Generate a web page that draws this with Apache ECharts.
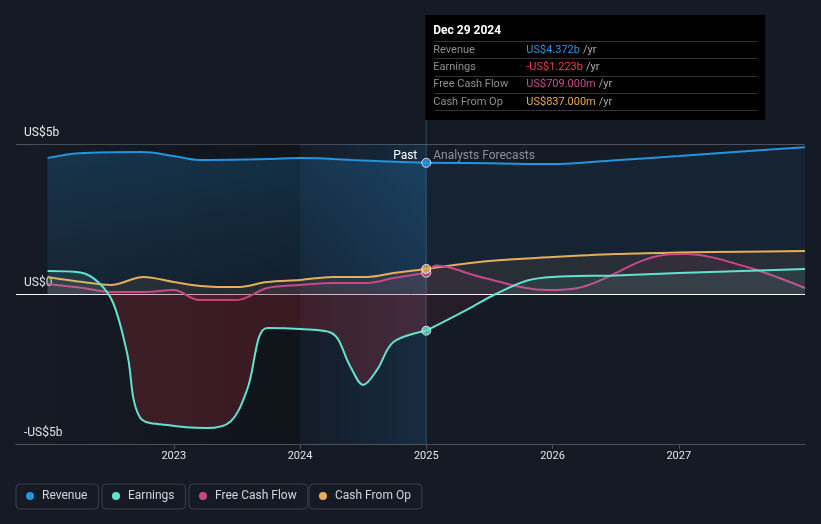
<!DOCTYPE html>
<html><head><meta charset="utf-8">
<script src="https://cdn.jsdelivr.net/npm/echarts@6/dist/echarts.min.js"></script>
<style>html,body{margin:0;padding:0;background:#151b25;}#c{width:821px;height:524px;}</style>
</head><body><div id="c"></div>
<script>
// ---- data (decimal year, US$ billions) ----
const xTicks = [2023, 2024, 2025, 2026, 2027];
const yTicks = [-5, 0, 5];
const seriesNames = ['Revenue', 'Earnings', 'Free Cash Flow', 'Cash From Op'];

const revenuePast = [[2022.0,4.53],[2022.25,4.69],[2022.75,4.73],[2023.0,4.6],[2023.2,4.47],[2023.75,4.5],[2024.0,4.53],[2024.5,4.45],[2025.0,4.372]];
const revenueForecast = [[2025.0,4.372],[2025.5,4.36],[2026.0,4.33],[2026.5,4.46],[2027.0,4.6],[2027.5,4.75],[2028.0,4.89]];

const earningsPast = [[2022.0,0.77],[2022.26,0.72],[2022.4,0.4],[2022.52,-0.3],[2022.63,-1.97],[2022.73,-4.1],[2022.95,-4.37],[2023.26,-4.47],[2023.45,-4.25],[2023.58,-3.2],[2023.74,-1.13],[2024.0,-1.17],[2024.25,-1.3],[2024.4,-2.43],[2024.5,-3.03],[2024.61,-2.53],[2024.74,-1.6],[2025.0,-1.223]];
const earningsForecast = [[2025.0,-1.223],[2025.32,-0.53],[2025.55,0.0],[2025.8,0.45],[2026.0,0.57],[2026.5,0.62],[2027.0,0.7],[2027.5,0.77],[2028.0,0.83]];

const fcfPast = [[2022.0,0.33],[2022.28,0.2],[2022.5,0.07],[2022.76,0.07],[2023.0,0.13],[2023.2,-0.2],[2023.5,-0.2],[2023.74,0.2],[2024.0,0.3],[2024.26,0.37],[2024.53,0.37],[2024.74,0.53],[2025.0,0.709]];
const fcfForecast = [[2025.0,0.709],[2025.08,0.95],[2025.43,0.57],[2025.96,0.13],[2026.2,0.2],[2026.88,1.3],[2027.05,1.33],[2027.54,0.9],[2028.0,0.2]];

const cfoPast = [[2022.0,0.57],[2022.28,0.4],[2022.5,0.3],[2022.76,0.57],[2023.0,0.4],[2023.21,0.27],[2023.5,0.23],[2023.74,0.4],[2024.0,0.47],[2024.26,0.57],[2024.53,0.57],[2024.74,0.70],[2025.0,0.837]];
const cfoForecast = [[2025.0,0.837],[2025.5,1.1],[2026.0,1.23],[2026.5,1.33],[2027.0,1.38],[2027.5,1.41],[2028.0,1.43]];

const pastStart = 2021.75, pastHighlight = 2024.0, pastEnd = 2025.0, axisEnd = 2028.0;
const tooltipDate = 'Dec 29 2024';
const tooltipValues = ['US$4.372b', '-US$1.223b', 'US$709.000m', 'US$837.000m'];

// ---- styling ----
const C = { rev:'#2394df', earn:'#62e3cf', fcf:'#c8488a', cfo:'#e8ad5a' };
const valColors = ['#2d94e0', '#e8413c', '#c74c8a', '#e5a94e'];
const FONT = 'Roboto';

const chart = echarts.init(document.getElementById('c'));
const G = echarts.graphic.LinearGradient;

function line(name, data, color, areaColor, z) {
  return { name, type:'line', data, smooth:0.35, symbol:'none', color, z,
    lineStyle:{ color, width:2 }, areaStyle:{ color: areaColor }, silent:true, animation:false };
}

const base = {
  backgroundColor:'#151b25',
  textStyle:{ fontFamily: FONT },
  animation:false,
  grid:{ left:16, right:16, top:144, bottom:80 },
  xAxis:{ type:'value', min:pastStart, max:axisEnd,
    axisLine:{ onZero:false, lineStyle:{ color:'#4b505a' } },
    axisTick:{ customValues:xTicks, length:5, lineStyle:{ color:'#4b505a' } },
    axisLabel:{ customValues:xTicks, formatter:v=>String(Math.round(v)), color:'#e2e4e8', fontSize:11, margin:7 },
    splitLine:{ show:false } },
  yAxis:{ type:'value', min:yTicks[0], max:yTicks[2], interval:5,
    axisLine:{ show:false }, axisTick:{ show:false },
    splitLine:{ show:true, lineStyle:{ color:['#4b505a','#ffffff','#4b505a'], width:1 } },
    axisLabel:{ inside:true, margin:8, verticalAlign:'bottom', padding:[0,0,5,0], color:'#e8e8e8', fontSize:12,
      formatter:v=> v===0 ? 'US$0' : (v<0 ? '-US$' + Math.abs(v) + 'b' : 'US$' + v + 'b') } },
  legend: seriesNames.map((n,i)=>({
    data:[n], left:[16,102,189,309][i], top:484, icon:'circle', itemWidth:14, itemHeight:8,
    padding:[6,11,7,10], borderColor:'#3a3f49', borderWidth:1, borderRadius:4,
    textStyle:{ color:'#d2d5da', fontSize:12, fontFamily:FONT } })),
  series:[]
};
chart.setOption(base);

const zeroY = chart.convertToPixel({ yAxisIndex:0 }, 0);
const H = 524;
function signGrad(pos, neg) {
  const o = zeroY / H;
  return new G(0, 0, 0, H, [{offset:0,color:pos},{offset:o,color:pos},{offset:o,color:neg},{offset:1,color:neg}], true);
}

const series = [
  { name:'bg', type:'line', data:[[pastStart,0]], symbol:'none', lineStyle:{opacity:0}, silent:true, z:1,
    markArea:{ silent:true, data:[
      [{ xAxis:pastStart, itemStyle:{ color:new G(0,0,1,0,[{offset:0,color:'rgba(0,0,0,0)'},{offset:1,color:'rgba(0,0,0,0.28)'}]) } }, { xAxis:pastHighlight }],
      [{ xAxis:pastHighlight, itemStyle:{ color:new G(0,0,1,0,[{offset:0,color:'rgba(15,35,60,0.15)'},{offset:1,color:'rgba(35,130,210,0.16)'}]) } }, { xAxis:pastEnd }]
    ] } },
  line('Revenue', revenuePast, C.rev, new G(0,0,0,1,[{offset:0,color:'rgba(35,148,223,0.3)'},{offset:1,color:'rgba(35,148,223,0.12)'}]), 2),
  line('Revenue', revenueForecast, C.rev, 'rgba(35,148,223,0.1)', 2),
  line('Cash From Op', cfoPast, C.cfo, 'rgba(232,173,90,0.13)', 3),
  line('Cash From Op', cfoForecast, C.cfo, 'rgba(232,173,90,0.12)', 3),
  line('Free Cash Flow', fcfPast, C.fcf, 'rgba(200,72,138,0.15)', 4),
  line('Free Cash Flow', fcfForecast, C.fcf, 'rgba(200,72,138,0.1)', 4),
  line('Earnings', earningsPast, C.earn, signGrad('rgba(98,227,207,0.15)','rgba(200,45,55,0.33)'), 5),
  line('Earnings', earningsForecast, C.earn, signGrad('rgba(98,227,207,0.12)','rgba(200,45,55,0.12)'), 5),
  { name:'markers', type:'scatter', z:10, silent:true, symbolSize:9,
    data:[
      { value:revenuePast[revenuePast.length-1], itemStyle:{ color:C.rev } },
      { value:earningsPast[earningsPast.length-1], itemStyle:{ color:C.earn } },
      { value:fcfPast[fcfPast.length-1], itemStyle:{ color:C.fcf } },
      { value:cfoPast[cfoPast.length-1], itemStyle:{ color:C.cfo } }
    ], itemStyle:{ borderColor:'#ffffff', borderWidth:1 } }
];

const px = chart.convertToPixel({ xAxisIndex:0 }, pastEnd);
const bottomY = chart.convertToPixel({ yAxisIndex:0 }, yTicks[0]);
const topY = chart.convertToPixel({ yAxisIndex:0 }, yTicks[2]);
const g = [];
g.push({ type:'line', z:50, silent:true, shape:{ x1:px, y1:15, x2:px, y2:bottomY }, style:{ stroke:'rgba(110,150,190,0.35)', lineWidth:1 } });
g.push({ type:'rect', z:60, silent:true, shape:{ x:px-1, y:15, width:340, height:105 }, style:{ fill:'#000000' } });
g.push({ type:'text', z:61, silent:true, x:px+7, y:31, style:{ text:tooltipDate, fill:'#ffffff', fontSize:12, fontWeight:'bold', fontFamily:FONT, verticalAlign:'middle' } });
const rowStep = 17.33;
for (let i = 0; i < 5; i++) {
  const ly = Math.round(41 + rowStep*i) + 0.5;
  g.push({ type:'line', z:61, silent:true, shape:{ x1:px+8, y1:ly, x2:px+331, y2:ly }, style:{ stroke:'#333333', lineWidth:1 } });
}
for (let i = 0; i < 4; i++) {
  const ry = 50 + rowStep*i;
  g.push({ type:'text', z:61, silent:true, x:px+7, y:ry, style:{ text:seriesNames[i], fill:'#8e8e8e', fontSize:11, fontFamily:FONT, verticalAlign:'middle' } });
  g.push({ type:'text', z:61, silent:true, x:px+100, y:ry, style:{ text:'{v|' + tooltipValues[i] + '} {u|/yr}', fontFamily:FONT, verticalAlign:'middle',
    rich:{ v:{ fill:valColors[i], fontSize:11, fontFamily:FONT }, u:{ fill:'#a8a8a8', fontSize:11, fontFamily:FONT } } } });
}
g.push({ type:'text', z:50, silent:true, x:px-9, y:topY+12, style:{ text:'Past', fill:'#ffffff', fontSize:12, fontFamily:FONT, align:'right', verticalAlign:'middle' } });
g.push({ type:'text', z:50, silent:true, x:px+7, y:topY+12, style:{ text:'Analysts Forecasts', fill:'#8a8f98', fontSize:12, fontFamily:FONT, align:'left', verticalAlign:'middle' } });

chart.setOption({ series, graphic:g });
</script></body></html>
